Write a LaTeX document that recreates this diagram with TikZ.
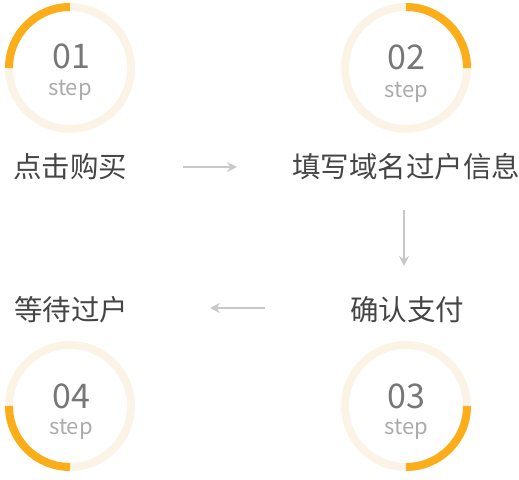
\documentclass[tikz,border=0pt]{standalone}
\usepackage{fontspec}
\setmainfont{Noto Sans CJK SC}
\usetikzlibrary{arrows.meta}
\definecolor{ringbg}{HTML}{FBF4E6}
\definecolor{ringfg}{HTML}{FBAE1A}
\definecolor{numgray}{HTML}{777777}
\definecolor{stepgray}{HTML}{ABABAB}
\definecolor{labgray}{HTML}{454545}
\definecolor{arrgray}{HTML}{C8C8C8}
\tikzset{
  ringbase/.style={draw=ringbg, line width=8pt},
  ringarc/.style={draw=ringfg, line width=8pt},
  numtxt/.style={text=numgray, font=\fontsize{34}{34}\selectfont, inner sep=0pt},
  steptxt/.style={text=stepgray, font=\fontsize{22}{22}\selectfont, inner sep=0pt},
  labtxt/.style={text=labgray, font=\fontsize{28.5}{28.5}\selectfont, inner sep=0pt},
  flow/.style={draw=arrgray, line width=2pt, -{Stealth[length=10pt,width=10pt]}}
}
\begin{document}
\begin{tikzpicture}[x=1pt,y=1pt]
\useasboundingbox (0,0) rectangle (519,479);
% circles
\foreach \n/\cx/\cy/\a/\b in {1/70/411/90/180, 2/406/411/90/0, 3/406/73/0/-90, 4/70/73/180/270}{
  \draw[ringbase] (\cx,\cy) circle[radius=61];
  \draw[ringarc] (\cx,\cy) ++(\a:61) arc[start angle=\a, end angle=\b, radius=61];
}
\node[numtxt]  (n1) at (71,423) {01};
\node[steptxt] (s1) at (70,389) {step};
\node[numtxt]  (n2) at (406,422) {02};
\node[steptxt] (s2) at (406,387) {step};
\node[numtxt]  (n3) at (406,83) {03};
\node[steptxt] (s3) at (406,50) {step};
\node[numtxt]  (n4) at (71,83) {04};
\node[steptxt] (s4) at (71,50) {step};
% labels
\node[labtxt] (l1) at (70,312) {点击购买};
\node[labtxt] (l2) at (406,312) {填写域名过户信息};
\node[labtxt] (l3) at (407,169) {确认支付};
\node[labtxt] (l4) at (71,169) {等待过户};
% arrows
\coordinate (a1s) at (183,312); \coordinate (a1e) at (237,312);
\coordinate (a2s) at (404,269); \coordinate (a2e) at (404,213);
\coordinate (a3s) at (265,171); \coordinate (a3e) at (210,171);
\draw[flow] (a1s) -- (a1e);
\draw[flow] (a2s) -- (a2e);
\draw[flow] (a3s) -- (a3e);
\end{tikzpicture}
\end{document}
